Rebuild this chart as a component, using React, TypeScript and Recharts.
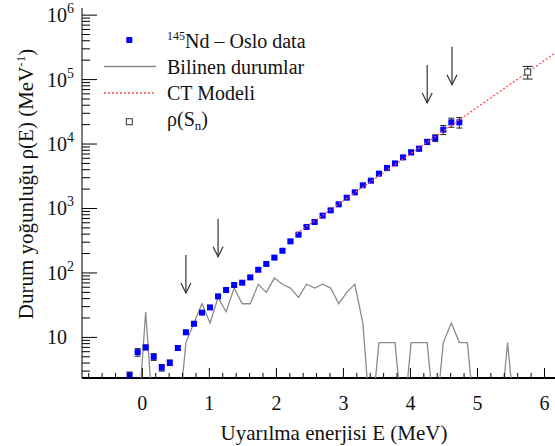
import { ComposedChart, Scatter, XAxis, YAxis, ErrorBar, Legend } from 'recharts';

// 145Nd Oslo data: excitation energy bins (MeV) and level density (1/MeV)
const osloE = [
  -0.19, -0.07, 0.05, 0.17, 0.29, 0.41, 0.53, 0.65, 0.77, 0.89,
  1.01, 1.13, 1.25, 1.37, 1.49, 1.61, 1.73, 1.85, 1.97, 2.09,
  2.21, 2.33, 2.45, 2.57, 2.69, 2.81, 2.93, 3.05, 3.17, 3.29,
  3.41, 3.53, 3.65, 3.77, 3.89, 4.01, 4.13, 4.25, 4.37, 4.49,
  4.61, 4.73,
];
const osloRho = [
  2.6, 5.9, 7.0, 5.0, 3.4, 4.05, 6.85, 12.0, 16.3, 24.2,
  29.2, 43.3, 54.4, 65, 70.6, 85.3, 112, 138, 173, 221,
  309, 393, 517, 617, 774, 935, 1160, 1470, 1780, 2290,
  2700, 3470, 4250, 5010, 6210, 7430, 8480, 10800, 12400, 16700,
  21700, 21700,
];
const osloErr = [
  0.3, 0.8, 0.6, 0.6, 0.4, 0.4, 0.6, 0.9, 1.1, 1.5,
  1.8, 2.5, 3, 3.5, 4, 4.5, 6, 7, 9, 11,
  15, 19, 25, 30, 37, 45, 55, 70, 85, 110,
  130, 170, 210, 260, 400, 600, 700, 1000, 1500, 2700,
  3500, 4000,
];

// known levels (Bilinen durumlar), same binning, 0 = empty bin
const knownE = [
  -0.19, -0.07, 0.05, 0.17, 0.29, 0.41, 0.53, 0.65, 0.77, 0.89,
  1.01, 1.13, 1.25, 1.37, 1.49, 1.61, 1.73, 1.85, 1.97, 2.09,
  2.21, 2.33, 2.45, 2.57, 2.69, 2.81, 2.93, 3.05, 3.17, 3.29,
  3.41, 3.53, 3.65, 3.77, 3.89, 4.01, 4.13, 4.25, 4.37, 4.49,
  4.61, 4.73, 4.85, 4.97, 5.09, 5.21, 5.33, 5.45, 5.57, 5.69,
];
const knownRho = [
  0, 0, 25, 0, 0, 0, 0, 8.3, 16.7, 33.3,
  16.7, 41.7, 25, 58.3, 33.3, 33.3, 66.7, 50, 83.3, 66.7,
  58.3, 41.7, 66.7, 58.3, 66.7, 58.3, 33.3, 50, 66.7, 16.7,
  0, 8.3, 8.3, 8.3, 0, 8.3, 8.3, 8.3, 0, 8.3,
  16.7, 8.3, 8.3, 0, 0, 0, 0, 8.3, 0, 0,
];

// constant-temperature model line
const ctE = [2.3, 6.5];
const ctRho = [410, 457000];

// rho(Sn)
const snE = [5.75];
const snRho = [131000];
const snErr = [29000];

// arrow tips
const arrowE = [0.65, 1.13, 4.25, 4.62];
const arrowRho = [49, 179, 43300, 83400];

const xMajorTicks = [0, 1, 2, 3, 4, 5, 6];
const yDecades = [10, 100, 1000, 10000, 100000, 1000000];

const FONT = "'Liberation Serif', 'Times New Roman', serif";
const PLOT_LEFT = 82;
const PLOT_BOTTOM = 378;
const EMPTY_BIN = 0.4;

const osloData = osloE.map((E, i) => ({ E, rho: osloRho[i], err: osloErr[i] }));
const knownData = knownE.map((E, i) => ({ E, rho: knownRho[i] > 0 ? knownRho[i] : EMPTY_BIN }));
const ctData = ctE.map((E, i) => ({ E, rho: ctRho[i] }));
const snData = snE.map((E, i) => ({ E, rho: snRho[i], err: snErr[i] }));
const arrowData = arrowE.map((E, i) => ({ E, rho: arrowRho[i] }));

const xTicks: number[] = [];
for (let t = -8; t <= 64; t += 2) xTicks.push(t / 10);
const yTicks: number[] = [];
[1, 10, 100, 1000, 10000, 100000].forEach((d) => {
  for (let m = d === 1 ? 3 : 1; m <= 9; m++) yTicks.push(m * d);
});
yTicks.push(1000000);

const isMajorX = (v: number) => xMajorTicks.some((t) => Math.abs(t - v) < 1e-6);
const isMajorY = (v: number) => yDecades.some((t) => Math.abs(t - v) / t < 1e-6);

const XTick = (props: any) => {
  const { x, payload } = props;
  const major = isMajorX(payload.value);
  return (
    <g>
      <line x1={x} x2={x} y1={PLOT_BOTTOM} y2={PLOT_BOTTOM - (major ? 10 : 5)} stroke="#000" strokeWidth={1} />
      {major && (
        <text x={x} y={410} textAnchor="middle" fontSize={20} fontFamily={FONT} fill="#111">
          {Math.round(payload.value)}
        </text>
      )}
    </g>
  );
};

const YTick = (props: any) => {
  const { y, payload } = props;
  const major = isMajorY(payload.value);
  const exp = Math.round(Math.log10(payload.value));
  return (
    <g>
      <line x1={PLOT_LEFT} x2={PLOT_LEFT + (major ? 15 : 8)} y1={y} y2={y} stroke="#000" strokeWidth={1} />
      {major && (
        <text x={47} y={y + 7} fontSize={20} fontFamily={FONT} fill="#111">
          10
          {exp > 1 && (
            <tspan dy={-9} fontSize={14}>
              {exp}
            </tspan>
          )}
        </text>
      )}
    </g>
  );
};

const XTitle = () => (
  <text x={334} y={440} textAnchor="middle" fontSize={21} fontFamily={FONT} fill="#111">
    Uyarılma enerjisi E (MeV)
  </text>
);

const YTitle = () => (
  <text transform="translate(33,184) rotate(-90)" x={0} y={0} textAnchor="middle" fontSize={21} fontFamily={FONT} fill="#111">
    Durum yoğunluğu ρ(E) (MeV
    <tspan dy={-8} fontSize={13}>-1</tspan>
    <tspan dy={8}>)</tspan>
  </text>
);

const NoDot = () => <g />;

const BlueSquare = (props: any) => {
  const { cx, cy } = props;
  return <rect x={cx - 3} y={cy - 3} width={6} height={6} fill="#0000ff" />;
};

const OpenSquare = (props: any) => {
  const { cx, cy } = props;
  return <rect x={cx - 3} y={cy - 3} width={6} height={6} fill="#fff" stroke="#333" strokeWidth={1} />;
};

const ArrowShape = (props: any) => {
  const { cx, cy } = props;
  return (
    <g stroke="#333" strokeWidth={1.2} fill="none">
      <line x1={cx} y1={cy - 38} x2={cx} y2={cy} />
      <polyline points={`${cx - 5},${cy - 10} ${cx},${cy} ${cx + 5},${cy - 10}`} />
    </g>
  );
};

const LegendBox = () => (
  <svg width={340} height={140} style={{ display: 'block' }}>
    <g fontFamily={FONT} fontSize={20} fill="#111">
      <rect x={126.3} y={37} width={6} height={6} fill="#0000ff" />
      <text x={167} y={48}>
        <tspan fontSize={12} dy={-8}>145</tspan>
        <tspan dy={8}>Nd – Oslo data</tspan>
      </text>
      <line x1={104} x2={156} y1={66.5} y2={66.5} stroke="#888" strokeWidth={1.3} />
      <text x={167} y={74}>Bilinen durumlar</text>
      <line x1={104} x2={156} y1={93} y2={93} stroke="#ff4d4d" strokeWidth={1.3} strokeDasharray="2 2" />
      <text x={167} y={100}>CT Modeli</text>
      <rect x={126.3} y={118.7} width={6} height={6} fill="#fff" stroke="#333" strokeWidth={1} />
      <text x={167} y={126}>
        ρ(S<tspan fontSize={13} dy={4}>n</tspan>
        <tspan dy={-4}>)</tspan>
      </text>
    </g>
  </svg>
);

export default function App() {
  return (
    <div style={{ position: 'absolute', left: 0, top: 0, width: 555, height: 446, overflow: 'hidden', background: '#fff' }}>
      <ComposedChart width={590} height={446} margin={{ top: 8, right: 12, left: 0, bottom: 0 }}>
        <XAxis
          type="number"
          dataKey="E"
          domain={[-0.9, 6.5]}
          allowDataOverflow
          ticks={xTicks}
          interval={0}
          tick={XTick}
          tickLine={false}
          axisLine={{ stroke: '#000', strokeWidth: 2 }}
          height={68}
          label={{ content: XTitle }}
        />
        <XAxis
          xAxisId="top"
          orientation="top"
          type="number"
          domain={[-0.9, 6.5]}
          tick={false}
          tickLine={false}
          axisLine={{ stroke: '#000', strokeWidth: 1 }}
          height={0}
        />
        <YAxis
          type="number"
          dataKey="rho"
          scale="log"
          domain={[2.345, 1290000]}
          allowDataOverflow
          ticks={yTicks}
          interval={0}
          tick={YTick}
          tickLine={false}
          axisLine={{ stroke: '#000', strokeWidth: 1 }}
          width={82}
          label={{ content: YTitle }}
        />
        <Legend
          layout="vertical"
          align="center"
          verticalAlign="middle"
          content={() => <LegendBox />}
          wrapperStyle={{ position: 'absolute', left: 0, top: 0, width: 340, height: 140 }}
        />
        <Scatter
          name="Bilinen durumlar"
          data={knownData}
          fill="#8c8c8c"
          line={{ stroke: '#8c8c8c', strokeWidth: 1.3 }}
          shape={NoDot}
          isAnimationActive={false}
        />
        <Scatter name="oslo errors" data={osloData} fill="#222" shape={NoDot} legendType="none" isAnimationActive={false}>
          <ErrorBar dataKey="err" direction="y" width={3} stroke="#222" strokeWidth={1} />
        </Scatter>
        <Scatter name="145Nd – Oslo data" data={osloData} fill="#0000ff" shape={BlueSquare} isAnimationActive={false} />
        <Scatter
          name="CT Modeli"
          data={ctData}
          fill="#ff4d4d"
          line={{ stroke: '#ff4d4d', strokeWidth: 1.3, strokeDasharray: '2 2' }}
          shape={NoDot}
          isAnimationActive={false}
        />
        <Scatter name="ρ(Sn)" data={snData} fill="#333" shape={OpenSquare} isAnimationActive={false}>
          <ErrorBar dataKey="err" direction="y" width={5} stroke="#222" strokeWidth={1} />
        </Scatter>
        <Scatter name="arrows" data={arrowData} fill="#333" shape={ArrowShape} isAnimationActive={false} />
      </ComposedChart>
    </div>
  );
}
